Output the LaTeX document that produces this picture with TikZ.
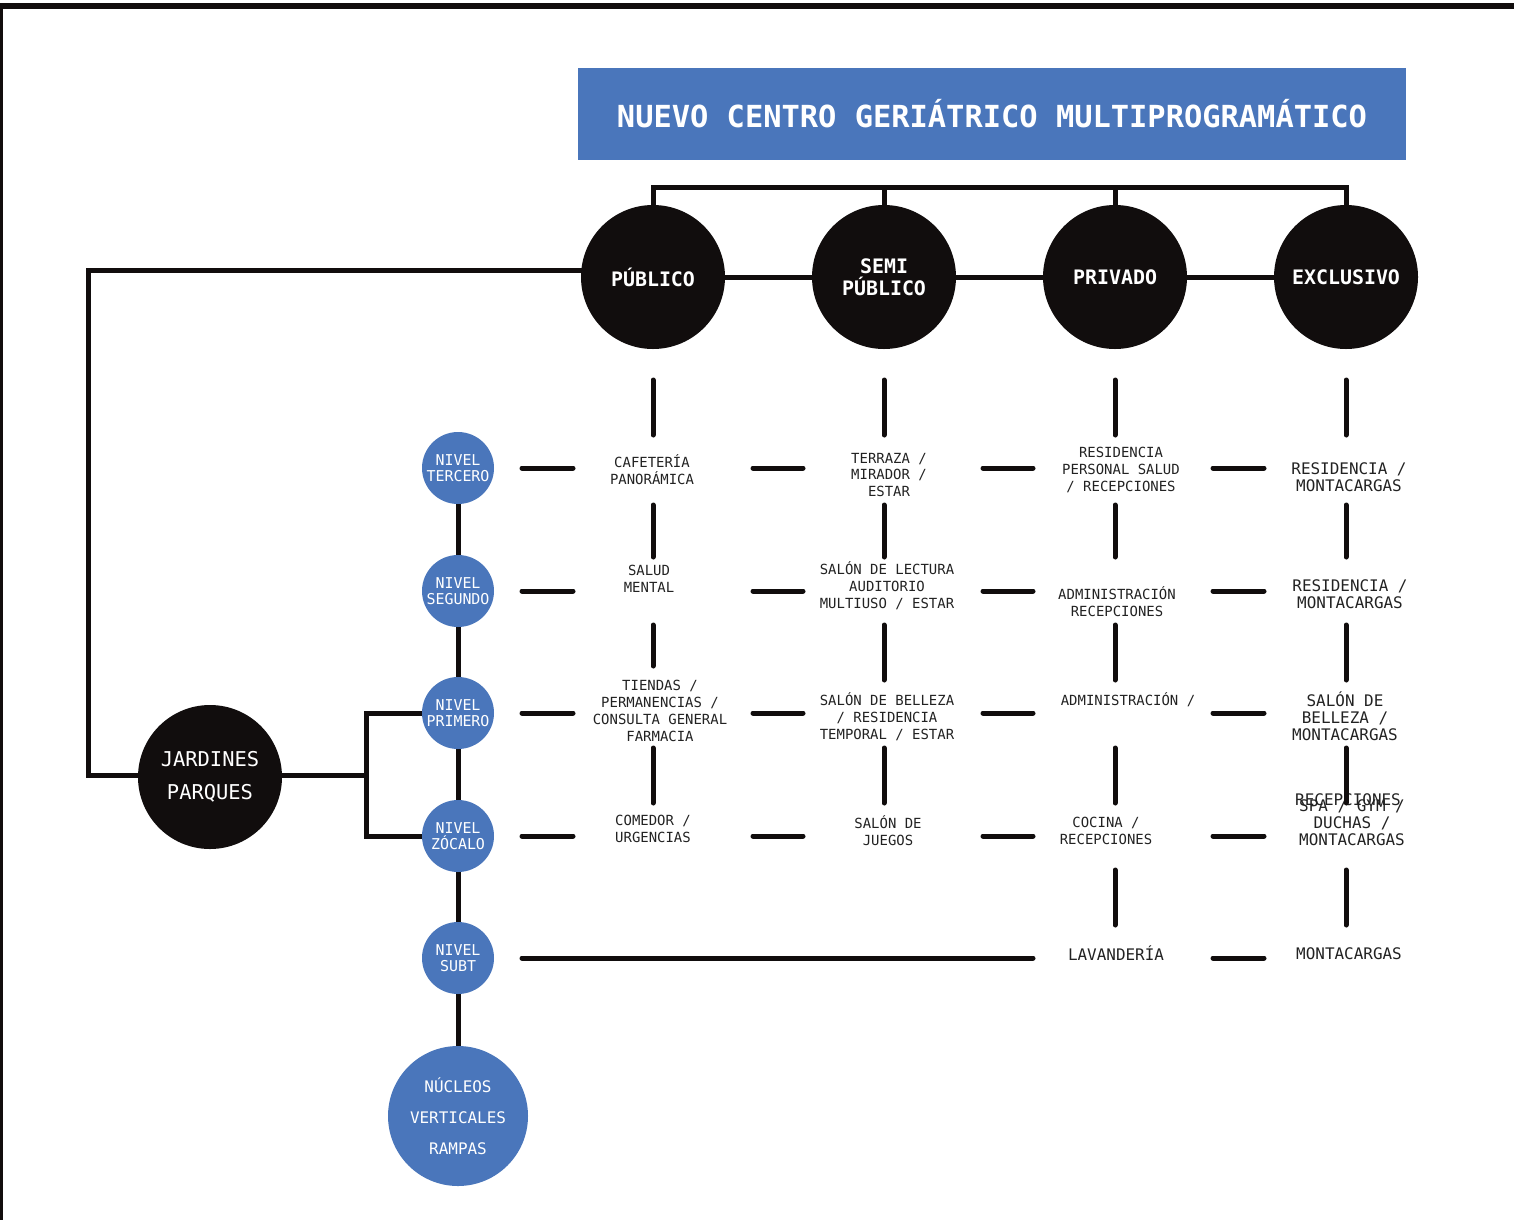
\documentclass[tikz,border=0pt]{standalone}
\usepackage{fontspec}
\setmainfont{DejaVu Sans Mono}
\newfontfamily\gmono{DejaVu Sans Mono}
\usetikzlibrary{backgrounds}
\definecolor{gblue}{HTML}{4A76BB}
\definecolor{gblack}{HTML}{110D0D}
\definecolor{gtext}{HTML}{222222}
\begin{document}
\begin{tikzpicture}[x=1bp,y=-1bp,
  conn/.style={line width=5bp, draw=gblack},
  dashseg/.style={line width=5bp, draw=gblack, line cap=round},
  zonebig/.style={circle, fill=gblack, minimum size=144bp, inner sep=0pt, text=white,
    font=\gmono\bfseries\fontsize{20}{22}\selectfont, align=center},
  lvl/.style={circle, fill=gblue, minimum size=72bp, inner sep=0pt, text=white,
    font=\gmono\fontsize{15}{16}\selectfont, align=center},
  gcell/.style={text=gtext, font=\gmono\fontsize{14}{17}\selectfont, align=center, inner sep=1bp},
  gcellb/.style={gcell, font=\gmono\fontsize{16}{17}\selectfont},
]
\useasboundingbox (0,0) rectangle (1514,1220);
% frame
\fill[gblack] (0,3) rectangle (1514,9);
\fill[gblack] (0,9) rectangle (3,1220);

% title
\node[fill=gblue, minimum width=828bp, minimum height=92bp, inner sep=0pt, text=white,
  font=\gmono\bfseries\fontsize{30.5}{34}\selectfont] (title) at (992,114) {NUEVO CENTRO GERIÁTRICO MULTIPROGRAMÁTICO};

% zone circles
\node[zonebig] (pub) at (653,277) {PÚBLICO};
\node[zonebig] (semi) at (884,277) {SEMI\\PÚBLICO};
\node[zonebig] (priv) at (1115,277) {PRIVADO};
\node[zonebig] (exc) at (1346,277) {EXCLUSIVO};

% jardines
\node[circle, fill=gblack, minimum size=144bp, inner sep=0pt, text=white,
  font=\gmono\fontsize{20.5}{33}\selectfont, align=center] (jard) at (210,777) {JARDINES\\PARQUES};

% levels
\node[lvl] (ter) at (458,468) {NIVEL\\TERCERO};
\node[lvl] (seg) at (458,591) {NIVEL\\SEGUNDO};
\node[lvl] (pri) at (458,713) {NIVEL\\PRIMERO};
\node[lvl] (zoc) at (458,836) {NIVEL\\ZÓCALO};
\node[lvl] (sub) at (458,958) {NIVEL\\SUBT};
\node[circle, fill=gblue, minimum size=140bp, inner sep=0pt, text=white,
  font=\gmono\fontsize{16}{31}\selectfont, align=center] (nuc) at (458,1116) {NÚCLEOS\\VERTICALES\\RAMPAS};

% cells
\node[gcell] (c11) at (652,470) {CAFETERÍA\\PANORÁMICA};
\node[gcell] (c12) at (889,475) {TERRAZA /\\MIRADOR /\\ESTAR};
\node[gcell] (c13) at (1121,470) {RESIDENCIA\\PERSONAL SALUD\\/ RECEPCIONES};
\node[gcellb] (c14) at (1349,477) {RESIDENCIA /\\MONTACARGAS};

\node[gcell] (c21) at (649,579) {SALUD\\MENTAL};
\node[gcell] (c22) at (887,586) {SALÓN DE LECTURA\\AUDITORIO\\MULTIUSO / ESTAR};
\node[gcell] (c23) at (1117,602) {ADMINISTRACIÓN\\RECEPCIONES};
\node[gcellb] (c24) at (1350,594) {RESIDENCIA /\\MONTACARGAS};

\node[gcell] (c31) at (660,711) {TIENDAS /\\PERMANENCIAS /\\CONSULTA GENERAL\\FARMACIA};
\node[gcell] (c32) at (887,717) {SALÓN DE BELLEZA\\/ RESIDENCIA\\TEMPORAL / ESTAR};
\node[gcell] (c33) at (1128,700) {ADMINISTRACIÓN /};
\node[gcellb] (c34) at (1345,716) {SALÓN DE\\BELLEZA /\\MONTACARGAS};

\node[gcell] (c41) at (653,829) {COMEDOR /\\URGENCIAS};
\node[gcell] (c42) at (888,831) {SALÓN DE\\JUEGOS};
\node[gcell] (c43) at (1106,831) {COCINA /\\RECEPCIONES};
\node[gcellb] (c44r) at (1348,800) {RECEPCIONES};
\node[gcellb] (c44) at (1352,823) {SPA / GYM /\\DUCHAS /\\MONTACARGAS};

\node[gcellb] (c53) at (1116,953) {LAVANDERÍA};
\node[gcellb] (c54) at (1349,954) {MONTACARGAS};

\coordinate (lt) at (88,270);
\coordinate (jb) at (366,775);
\coordinate (tb) at (653,187);

\begin{scope}[on background layer]
  % top bracket
  \draw[conn] (pub.center) -- (pub |- tb) -- (exc |- tb) -- (exc.center);
  \draw[conn] (semi.center) -- (semi |- tb);
  \draw[conn] (priv.center) -- (priv |- tb);
  % zone chain
  \draw[conn] (pub) -- (semi) -- (priv) -- (exc);
  % left loop
  \draw[conn] (lt -| pub.center) -- (lt) |- (jb);
  \draw[conn] (pri.center) -| (jb) |- (zoc.center);
  % level spine
  \draw[conn] (ter.center) -- (nuc.center);
\end{scope}

% horizontal dashes
\foreach \y in {468,591,713,836}{
  \foreach \a/\b in {522/573,753/803,983/1033,1213/1264}{
    \draw[dashseg] (\a,\y) -- (\b,\y);
  }
}
\draw[dashseg] (522,958) -- (1033,958);
\draw[dashseg] (1213,958) -- (1264,958);
% vertical dashes
\foreach \x in {653,884,1115,1346}{
  \foreach \a/\b in {380/435,505/557,748/803}{
    \draw[dashseg] (\x,\a) -- (\x,\b);
  }
}
\draw[dashseg] (653,625) -- (653,666);
\foreach \x in {884,1115,1346}{
  \draw[dashseg] (\x,625) -- (\x,680);
}
\foreach \x in {1115,1346}{
  \draw[dashseg] (\x,870) -- (\x,925);
}
\end{tikzpicture}
\end{document}
